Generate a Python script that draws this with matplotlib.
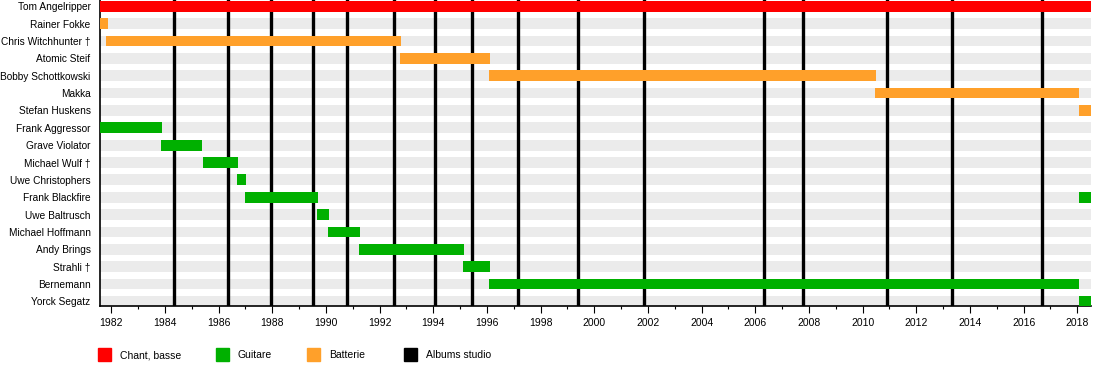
import matplotlib.pyplot as plt
from matplotlib.patches import Rectangle
from matplotlib.ticker import MultipleLocator

plt.rcParams['font.family'] = ['Liberation Sans', 'DejaVu Sans']

# band members, top to bottom
members = ["Tom Angelripper", "Rainer Fokke", "Chris Witchhunter \u2020", "Atomic Steif",
           "Bobby Schottkowski", "Makka", "Stefan Huskens", "Frank Aggressor",
           "Grave Violator", "Michael Wulf \u2020", "Uwe Christophers", "Frank Blackfire",
           "Uwe Baltrusch", "Michael Hoffmann", "Andy Brings", "Strahli \u2020",
           "Bernemann", "Yorck Segatz"]

# one entry per bar segment (decimal years)
bar_member = ["Tom Angelripper", "Rainer Fokke", "Chris Witchhunter \u2020", "Atomic Steif",
              "Bobby Schottkowski", "Makka", "Stefan Huskens", "Frank Aggressor",
              "Grave Violator", "Michael Wulf \u2020", "Uwe Christophers", "Frank Blackfire",
              "Frank Blackfire", "Uwe Baltrusch", "Michael Hoffmann", "Andy Brings",
              "Strahli \u2020", "Bernemann", "Yorck Segatz"]
bar_start = [1981.59, 1981.59, 1981.81, 1992.77, 1996.09, 2010.47, 2018.06, 1981.59,
             1983.86, 1985.42, 1986.70, 1986.99, 2018.06, 1989.68, 1990.09, 1991.23,
             1995.12, 1996.08, 2018.06]
bar_end = [2018.51, 1981.88, 1992.81, 1996.13, 2010.51, 2018.08, 2018.51, 1983.90,
           1985.39, 1986.73, 1987.03, 1989.71, 2018.51, 1990.12, 1991.28, 1995.16,
           1996.13, 2018.07, 2018.51]
bar_role = ["vocals", "drums", "drums", "drums", "drums", "drums", "drums", "guitar",
            "guitar", "guitar", "guitar", "guitar", "guitar", "guitar", "guitar", "guitar",
            "guitar", "guitar", "guitar"]

# studio album release dates
albums = [1984.33, 1986.35, 1987.96, 1989.50, 1990.80, 1992.53, 1994.05, 1995.43,
          1997.14, 1999.38, 2001.84, 2006.31, 2007.77, 2010.91, 2013.34, 2016.69]

period_start, period_end = 1981.59, 2018.51

legend_keys = ["vocals", "guitar", "drums", "albums"]
legend_labels = ["Chant, basse", "Guitare", "Batterie", "Albums studio"]
role_colors = {"vocals": "#ff0000", "guitar": "#00b000", "drums": "#ffa02a", "albums": "black"}

W, H = 1100, 386
fig = plt.figure(figsize=(W / 100, H / 100), dpi=100)
ax = fig.add_axes([100.3 / W, 80 / H, 990.7 / W, 306 / H])

rows = {name: i for i, name in enumerate(members)}
bar_h = 0.62

# light grey background stripes
ax.barh(range(len(members)), period_end - period_start, left=period_start,
        height=bar_h, color="#ebebeb", zorder=1)

# album release lines
for a in albums:
    ax.axvline(a, color="black", linewidth=2.4, zorder=2)

# member bars
for name, s, e, role in zip(bar_member, bar_start, bar_end, bar_role):
    ax.barh(rows[name], e - s, left=s, height=bar_h, color=role_colors[role], zorder=3)

ax.set_xlim(period_start, period_end)
ax.set_ylim(17.27, -0.366)
ax.set_yticks(range(len(members)))
ax.set_yticklabels(members, fontsize=7.3)
ax.tick_params(axis="y", length=0, pad=7)

ax.xaxis.set_minor_locator(MultipleLocator(1))
ax.set_xticks(range(1982, 2019, 2))
ax.tick_params(axis="x", which="major", length=5, width=0.8, labelsize=7.5, pad=4)
ax.tick_params(axis="x", which="minor", length=2.5, width=0.8)

for side in ["top", "right"]:
    ax.spines[side].set_visible(False)
ax.spines["left"].set_linewidth(1.2)
ax.spines["bottom"].set_linewidth(1.2)

# legend row below the axis
legend_px = [98, 216, 307, 404]
for x0, key, label in zip(legend_px, legend_keys, legend_labels):
    fig.add_artist(Rectangle((x0 / W, 1 - 361 / H), 12.5 / W, 13 / H,
                             transform=fig.transFigure, color=role_colors[key]))
    fig.text((x0 + 22) / W, 1 - 355.5 / H, label, fontsize=7.5, va="center", ha="left")

fig.savefig("out.png", dpi=100)
